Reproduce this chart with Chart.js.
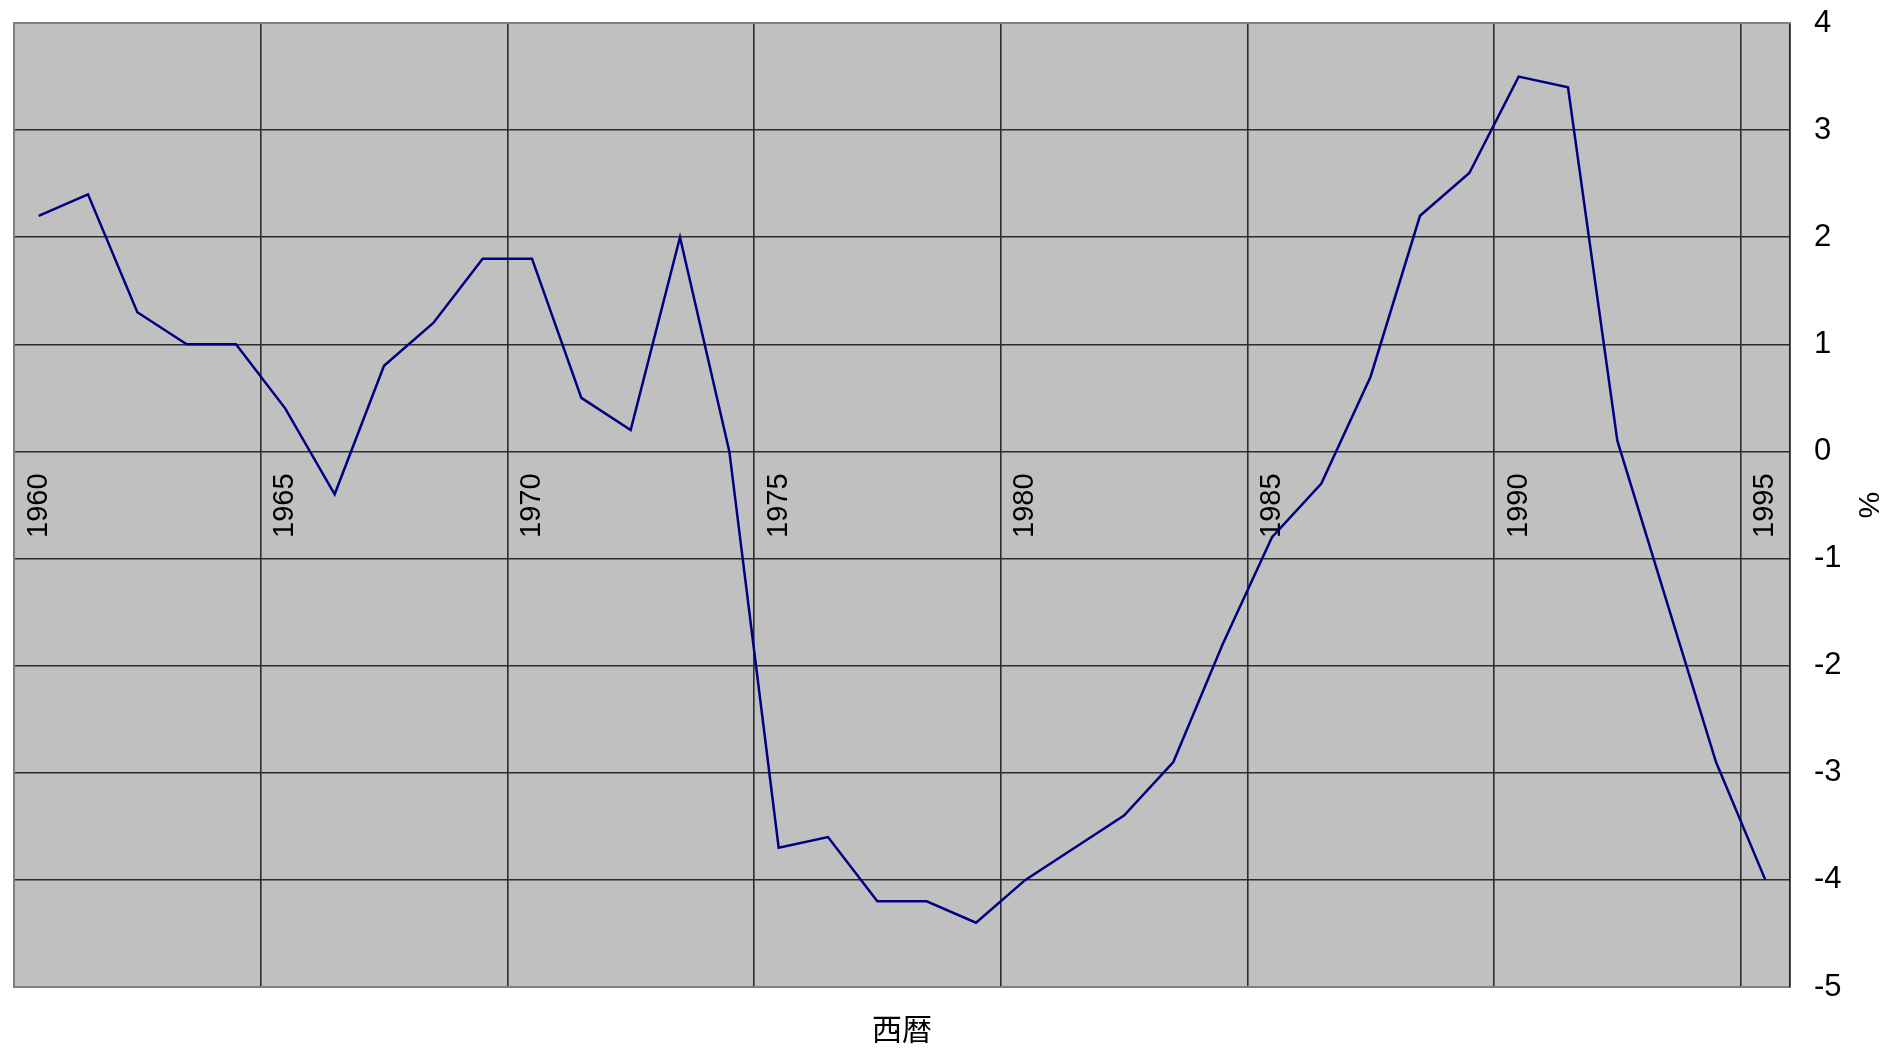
<!DOCTYPE html>
<html>
<head>
<meta charset="utf-8">
<script src="https://cdn.jsdelivr.net/npm/chart.js@4/dist/chart.umd.min.js"></script>
<style>
  html, body { margin: 0; padding: 0; background: #ffffff; }
  #wrap { width: 1885px; height: 1050px; }
</style>
</head>
<body>
<div id="wrap"><canvas id="c" width="1885" height="1050"></canvas></div>
<script>
// Annual values, one per year, plotted at mid-year
const years = [
  1960, 1961, 1962, 1963, 1964, 1965, 1966, 1967, 1968, 1969,
  1970, 1971, 1972, 1973, 1974, 1975, 1976, 1977, 1978, 1979,
  1980, 1981, 1982, 1983, 1984, 1985, 1986, 1987, 1988, 1989,
  1990, 1991, 1992, 1993, 1994, 1995
];
const rates = [
  2.2, 2.4, 1.3, 1.0, 1.0, 0.4, -0.4, 0.8, 1.2, 1.8,
  1.8, 0.5, 0.2, 2.0, 0.0, -3.7, -3.6, -4.2, -4.2, -4.4,
  -4.0, -3.7, -3.4, -2.9, -1.8, -0.8, -0.3, 0.7, 2.2, 2.6,
  3.5, 3.4, 0.1, -1.4, -2.9, -4.0
];
const yearLabels = [1960, 1965, 1970, 1975, 1980, 1985, 1990, 1995];
const xTitle = '西暦';
const yTitle = '%';

const FONT = "'Liberation Sans', Arial, 'Noto Sans CJK JP', sans-serif";
const CJK = "'Noto Sans CJK JP', sans-serif";
const GRID = '#2c2c2c';

const points = years.map((yr, i) => ({ x: yr + 0.5, y: rates[i] }));

// Gray plot background and the light frame on the left / top edges
const frame = {
  id: 'frame',
  beforeDraw(chart) {
    const { ctx, chartArea: a } = chart;
    ctx.save();
    ctx.fillStyle = '#c0c0c0';
    ctx.fillRect(a.left, a.top, a.right - a.left, a.bottom - a.top);
    ctx.restore();
  },
  beforeDatasetsDraw(chart) {
    const { ctx, chartArea: a } = chart;
    ctx.save();
    ctx.strokeStyle = '#808080';
    ctx.lineWidth = 2;
    ctx.beginPath();
    ctx.moveTo(a.left, a.bottom);
    ctx.lineTo(a.left, a.top);
    ctx.lineTo(a.right, a.top);
    ctx.stroke();
    ctx.restore();
  }
};

new Chart(document.getElementById('c'), {
  type: 'line',
  data: {
    datasets: [{
      data: points,
      borderColor: '#000080',
      borderWidth: 2.5,
      pointRadius: 0,
      tension: 0,
      fill: false
    }]
  },
  options: {
    responsive: false,
    animation: false,
    devicePixelRatio: 1,
    layout: { padding: { left: 14, top: 23, right: 0, bottom: 0 } },
    plugins: { legend: { display: false }, tooltip: { enabled: false } },
    scales: {
      x: {
        type: 'linear',
        position: 'bottom',
        min: 1960,
        max: 1996,
        afterFit(s) { s.height = 63; s.paddingLeft = 0; s.paddingRight = 0; },
        ticks: { display: false, stepSize: 5 },
        grid: { color: GRID, lineWidth: 1.6, drawTicks: false },
        border: { color: '#808080', width: 2 },
        title: {
          display: true,
          text: xTitle,
          color: '#000000',
          font: { family: CJK, size: 30 },
          padding: { top: 0, bottom: 3 }
        }
      },
      xl: {
        type: 'linear',
        position: { y: 0 },
        min: 1960,
        max: 1996,
        display: true,
        afterBuildTicks(s) {
          s.ticks = yearLabels.map(v => ({ value: v + 0.5 }));
        },
        grid: { display: false, drawTicks: false },
        border: { display: false },
        ticks: {
          autoSkip: false,
          minRotation: 90,
          maxRotation: 90,
          padding: 22,
          color: '#000000',
          font: { family: FONT, size: 29 },
          callback: v => String(Math.floor(v))
        }
      },
      y: {
        type: 'linear',
        position: 'right',
        min: -5,
        max: 4,
        afterFit(s) { s.width = 95; s.paddingTop = 0; s.paddingBottom = 0; },
        ticks: {
          stepSize: 1,
          padding: 24,
          color: '#000000',
          font: { family: FONT, size: 31 }
        },
        grid: { color: GRID, lineWidth: 1.6, drawTicks: false },
        border: { color: '#222222', width: 1.5 },
        title: {
          display: true,
          text: yTitle,
          color: '#000000',
          font: { family: FONT, size: 30 },
          padding: { top: 0, bottom: 0 }
        }
      }
    }
  },
  plugins: [frame]
});
</script>
</body>
</html>
